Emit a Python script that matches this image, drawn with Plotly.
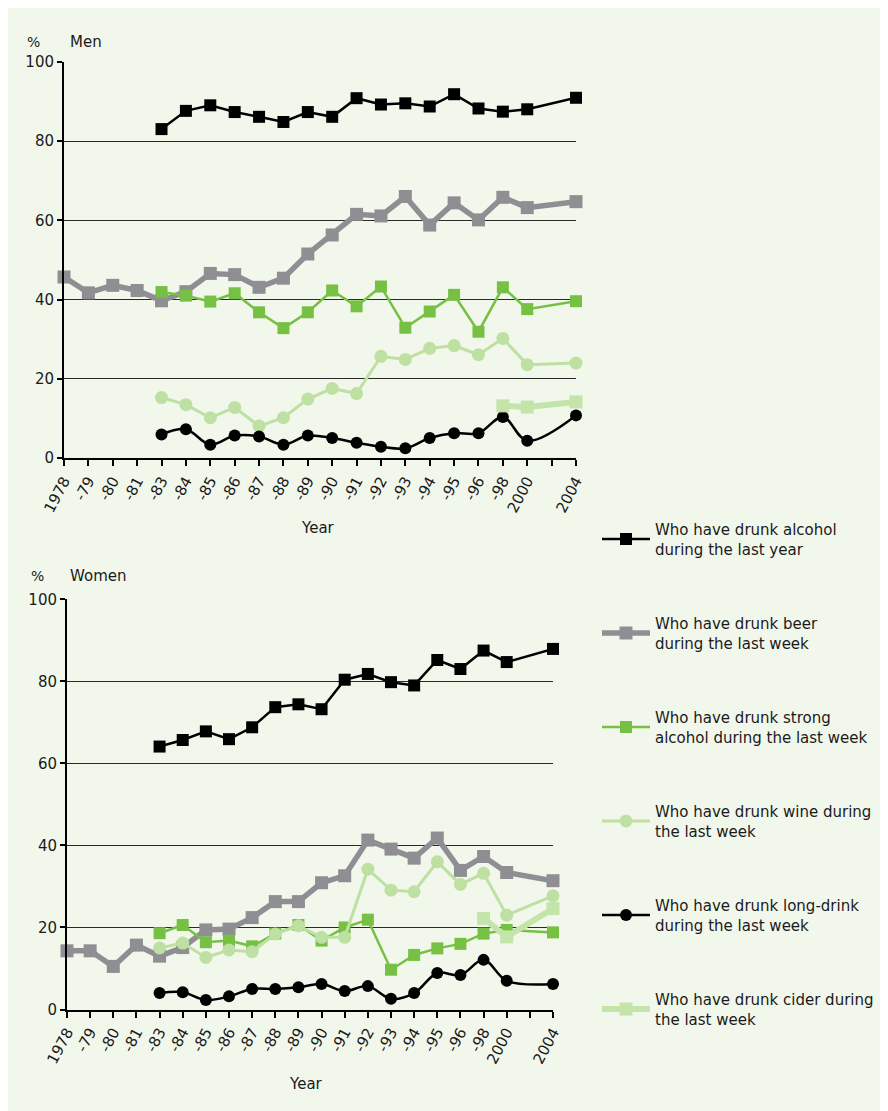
import plotly.graph_objects as go

# page body has an 8px margin: the figure is drawn at (8, 8) in the window
OFF = 8
W, H = 888 - OFF, 1111 - OFF

# ---------------- data ----------------
year_labels = ["1978", "-79", "-80", "-81", "-83", "-84", "-85", "-86", "-87", "-88", "-89",
               "-90", "-91", "-92", "-93", "-94", "-95", "-96", "-98", "2000", " ", "2004"]

series_names = [
    "Who have drunk alcohol<br>during the last year",
    "Who have drunk beer<br>during the last week",
    "Who have drunk strong<br>alcohol during the last week",
    "Who have drunk wine during<br>the last week",
    "Who have drunk long-drink<br>during the last week",
    "Who have drunk cider during<br>the last week",
]

N = None
# Men
men_alcohol = [N, N, N, N, 83.0, 87.6, 89.0, 87.3, 86.1, 84.8, 87.3, 86.1, 90.8, 89.2, 89.5, 88.7, 91.8, 88.2, 87.4, 88.0, N, 90.9]
men_beer = [45.7, 41.7, 43.6, 42.3, 39.7, 42.0, 46.6, 46.3, 43.1, 45.4, 51.5, 56.3, 61.5, 61.1, 66.0, 58.8, 64.4, 60.1, 65.8, 63.2, N, 64.7]
men_strong = [N, N, N, N, 41.9, 41.0, 39.5, 41.6, 36.8, 32.8, 36.8, 42.3, 38.3, 43.3, 32.9, 37.0, 41.2, 31.9, 43.1, 37.6, N, 39.6]
men_wine = [N, N, N, N, 15.3, 13.5, 10.2, 12.8, 8.1, 10.2, 14.9, 17.6, 16.3, 25.7, 24.9, 27.7, 28.4, 26.1, 30.2, 23.6, N, 24.0]
men_long = [N, N, N, N, 6.0, 7.3, 3.4, 5.7, 5.5, 3.4, 5.7, 5.1, 3.9, 2.9, 2.5, 5.1, 6.3, 6.3, 10.4, 4.4, N, 10.8]
men_cider = [N, N, N, N, N, N, N, N, N, N, N, N, N, N, N, N, N, N, 13.2, 12.9, N, 14.2]

# Women
women_alcohol = [N, N, N, N, 64.1, 65.7, 67.8, 65.9, 68.8, 73.7, 74.4, 73.2, 80.4, 81.8, 79.8, 79.0, 85.2, 83.0, 87.5, 84.7, N, 87.9]
women_beer = [14.3, 14.3, 10.5, 15.7, 13.0, 15.1, 19.4, 19.6, 22.4, 26.3, 26.3, 30.9, 32.6, 41.3, 39.1, 36.9, 41.8, 33.9, 37.3, 33.4, N, 31.4]
women_strong = [N, N, N, N, 18.6, 20.6, 16.4, 16.8, 15.4, 18.5, 20.6, 16.8, 20.0, 21.9, 9.7, 13.3, 14.9, 16.0, 18.5, 19.4, N, 18.8]
women_wine = [N, N, N, N, 15.0, 16.2, 12.7, 14.5, 14.1, 18.4, 20.4, 17.6, 17.6, 34.2, 29.1, 28.7, 36.0, 30.5, 33.2, 23.0, N, 27.7]
women_long = [N, N, N, N, 4.0, 4.2, 2.3, 3.2, 5.0, 5.0, 5.4, 6.2, 4.5, 5.7, 2.6, 4.0, 8.9, 8.4, 12.1, 7.0, N, 6.2]
women_cider = [N, N, N, N, N, N, N, N, N, N, N, N, N, N, N, N, N, N, 22.2, 17.7, N, 24.6]

y_ticks = [0, 20, 40, 60, 80, 100]

# ---------------- styles ----------------
styles = [
    dict(color="#000000", width=2.5, symbol="square", msize=12, shape="linear", mcolor="#000000"),
    dict(color="#8E8E93", width=5.5, symbol="square", msize=13, shape="linear", mcolor="#8E8E93"),
    dict(color="#76C043", width=2.5, symbol="square", msize=12, shape="linear", mcolor="#76C043"),
    dict(color="#BEE0A2", width=3, symbol="circle", msize=13, shape="linear", mcolor="#BEE0A2"),
    dict(color="#000000", width=2.5, symbol="circle", msize=12, shape="spline", mcolor="#000000"),
    dict(color="#C4E4AA", width=6, symbol="square", msize=13, shape="linear", mcolor="#C4E4AA"),
]

men = [men_alcohol, men_beer, men_strong, men_wine, men_long, men_cider]
women = [women_alcohol, women_beer, women_strong, women_wine, women_long, women_cider]

FONT = "DejaVu Sans"
TXT = "#1a1a1a"

fig = go.Figure()

for panel, (data, xa, ya) in enumerate([(men, "x", "y"), (women, "x2", "y2")]):
    for i, (name, vals, st) in enumerate(zip(series_names, data, styles)):
        fig.add_trace(go.Scatter(
            x=year_labels, y=vals, name=name, xaxis=xa, yaxis=ya,
            mode="lines+markers", connectgaps=True, cliponaxis=False,
            legendgroup=f"g{i}", showlegend=(panel == 0),
            line=dict(color=st["color"], width=st["width"], shape=st["shape"],
                      smoothing=1.0 if st["shape"] == "spline" else None),
            marker=dict(symbol=st["symbol"], size=st["msize"], color=st["mcolor"],
                        line=dict(width=0)),
        ))

def px_x(p):
    return (p - OFF) / W

def px_y(p):
    return 1 - (p - OFF) / H

axis_common_x = dict(
    type="category", range=[0, len(year_labels) - 1], automargin=False,
    showline=True, linecolor="#000000", linewidth=2,
    ticks="outside", ticklen=6, tickwidth=1.5, tickcolor="#000000",
    tickangle=-62, showgrid=False, zeroline=False,
    tickfont=dict(family=FONT, size=15, color=TXT),
)
axis_common_y = dict(
    range=[0, 100], tickvals=y_ticks, automargin=False,
    showline=True, linecolor="#000000", linewidth=2,
    ticks="outside", ticklen=5, tickwidth=1.5, tickcolor="#000000",
    showgrid=True, gridcolor="#2a2a2a", gridwidth=1, zeroline=False,
    tickfont=dict(family=FONT, size=15, color=TXT),
)

fig.update_layout(
    width=W, height=H,
    margin=dict(l=0, r=0, t=0, b=0, pad=0, autoexpand=False),
    paper_bgcolor="#FFFFFF", plot_bgcolor="rgba(0,0,0,0)",
    font=dict(family=FONT, color=TXT),
    xaxis=dict(domain=[px_x(64), px_x(576)], anchor="y", **axis_common_x),
    yaxis=dict(domain=[px_y(458.2), px_y(61.7)], anchor="x", **axis_common_y),
    xaxis2=dict(domain=[px_x(67), px_x(553)], anchor="y2", **axis_common_x),
    yaxis2=dict(domain=[px_y(1009.5), px_y(599.3)], anchor="x2", **axis_common_y),
    showlegend=True,
    legend=dict(
        x=px_x(597), y=px_y(513), xanchor="left", yanchor="top",
        bgcolor="rgba(0,0,0,0)", borderwidth=0,
        font=dict(family=FONT, size=15, color=TXT),
        tracegroupgap=52, itemwidth=48,
    ),
    shapes=[dict(type="rect", xref="paper", yref="paper",
                 x0=0, x1=1, y0=0, y1=1,
                 fillcolor="#F2F7EC", line=dict(width=0), layer="below")],
    annotations=[
        dict(text="%", x=px_x(33), y=px_y(42), xref="paper", yref="paper",
             showarrow=False, font=dict(size=14, family=FONT, color=TXT), xanchor="center", yanchor="middle"),
        dict(text="Men", x=px_x(68), y=px_y(42), xref="paper", yref="paper",
             showarrow=False, font=dict(size=15, family=FONT, color=TXT), xanchor="left", yanchor="middle"),
        dict(text="Year", x=px_x(318), y=px_y(528), xref="paper", yref="paper",
             showarrow=False, font=dict(size=15, family=FONT, color=TXT), xanchor="center", yanchor="middle"),
        dict(text="%", x=px_x(38), y=px_y(576), xref="paper", yref="paper",
             showarrow=False, font=dict(size=14, family=FONT, color=TXT), xanchor="center", yanchor="middle"),
        dict(text="Women", x=px_x(68), y=px_y(576), xref="paper", yref="paper",
             showarrow=False, font=dict(size=15, family=FONT, color=TXT), xanchor="left", yanchor="middle"),
        dict(text="Year", x=px_x(306), y=px_y(1084), xref="paper", yref="paper",
             showarrow=False, font=dict(size=15, family=FONT, color=TXT), xanchor="center", yanchor="middle"),
    ],
)

fig.write_html("out.html")
